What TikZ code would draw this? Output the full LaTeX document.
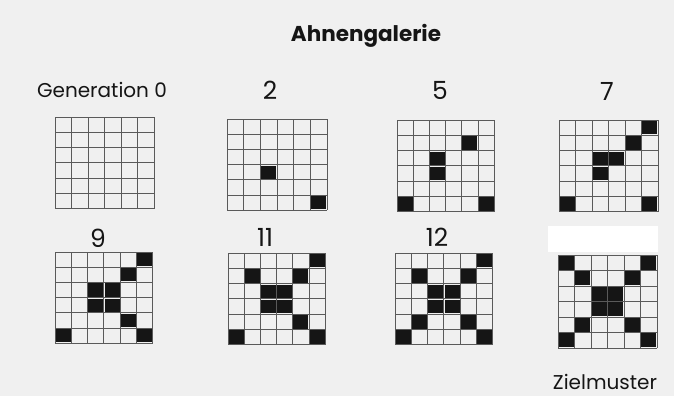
\documentclass[tikz,border=0pt]{standalone}
\usepackage{fontspec}
\setmainfont{Poppins}
\definecolor{bg}{HTML}{F0F0F0}
\definecolor{gl}{HTML}{5A5A5A}
\definecolor{ink}{HTML}{151515}
\tikzset{
  gridline/.style={draw=gl,line width=1pt},
  blob/.style={fill=ink},
  lbl/.style={font=\fontsize{20}{22}\selectfont,text=ink},
  num/.style={font=\fontsize{25}{27}\selectfont,text=ink},
}
\newcommand\gridlines[4]{%
\begin{scope}[shift={(#1,#2)},x=#3pt,y=-#4pt]
\foreach \i in {0,...,6}{\draw[gridline] (\i,0)--(\i,6); \draw[gridline] (0,\i)--(6,\i);}
\end{scope}}
\newcommand\blobs[5]{%
\begin{scope}[shift={(#1,#2)},x=#3pt,y=-#4pt]
\foreach \c/\r in {#5}{\fill[blob] (\c+0.04,\r+0.06) rectangle (\c+0.96,\r+0.94);}
\end{scope}}
\begin{document}
\begin{tikzpicture}[x=1pt,y=-1pt]
\fill[bg] (0,0) rectangle (674,396);
\useasboundingbox (0,0) rectangle (674,396);
\fill[white] (548,226) rectangle (658,252);
\node[font=\bfseries\fontsize{21.5}{24}\selectfont,text=ink] (title) at (366,36) {Ahnengalerie};
\node[lbl] (g0) at (102,90) {Generation 0};
\node[num] (g2) at (270,90) {2};
\node[num] (g5) at (440,90) {5};
\node[num] (g7) at (607,91) {7};
\node[num] (g9) at (98,238) {9};
\node[num] (g11) at (265,237) {11};
\node[num] (g12) at (437,237) {12};
\node[lbl] (ziel) at (605,382) {Zielmuster};
% grids
\gridlines{55}{117}{16.5}{15.3}
\blobs{227}{119}{16.67}{15.2}{2/3,5/5}
\gridlines{227}{119}{16.67}{15.2}
\blobs{397}{120}{16.2}{15.3}{4/1,2/2,2/3,0/5,5/5}
\gridlines{397}{120}{16.2}{15.3}
\blobs{559}{120}{16.5}{15.3}{5/0,4/1,2/2,3/2,2/3,0/5,5/5}
\gridlines{559}{120}{16.5}{15.3}
\blobs{55}{252}{16.3}{15.2}{5/0,4/1,2/2,3/2,2/3,3/3,4/4,0/5,5/5}
\gridlines{55}{252}{16.3}{15.2}
\blobs{228}{253}{16.2}{15.3}{5/0,1/1,4/1,2/2,3/2,2/3,3/3,4/4,0/5,5/5}
\gridlines{228}{253}{16.2}{15.3}
\blobs{395}{253}{16.3}{15.3}{5/0,1/1,4/1,2/2,3/2,2/3,3/3,1/4,4/4,0/5,5/5}
\gridlines{395}{253}{16.3}{15.3}
\blobs{558}{255}{16.5}{15.5}{0/0,5/0,1/1,4/1,2/2,3/2,2/3,3/3,1/4,4/4,0/5,5/5}
\gridlines{558}{255}{16.5}{15.5}
\end{tikzpicture}
\end{document}
